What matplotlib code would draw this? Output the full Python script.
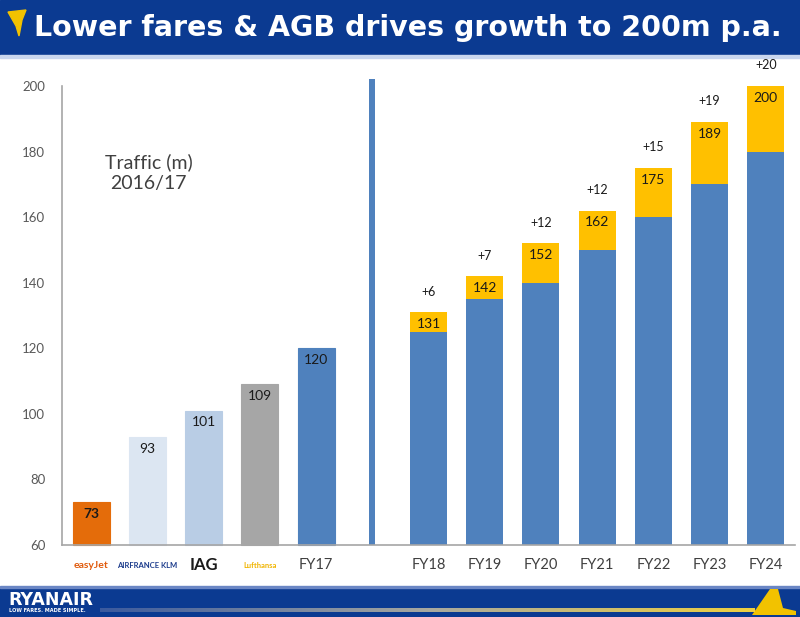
import matplotlib.pyplot as plt
import numpy as np
from matplotlib.patches import Rectangle, Polygon
from matplotlib.colors import LinearSegmentedColormap

# peers 2016/17 traffic (m)
peer_names = ["easyJet", "AIRFRANCE KLM", "IAG", "Lufthansa", "FY17"]
peer_values = [73, 93, 101, 109, 120]
peer_colors = ["#e46c0a", "#dce6f2", "#b9cde5", "#a6a6a6", "#4f81bd"]

# Ryanair growth plan
years = ["FY18", "FY19", "FY20", "FY21", "FY22", "FY23", "FY24"]
base = [125, 135, 140, 150, 160, 170, 180]
totals = [131, 142, 152, 162, 175, 189, 200]
increments = [6, 7, 12, 12, 15, 19, 20]

divider_top = 202

NAVY = "#0b3a91"
BLUE = "#4f81bd"
GOLD = "#ffc000"

plt.rcParams['font.family'] = ['Lato', 'DejaVu Sans']

fig = plt.figure(figsize=(8, 6.17), dpi=100)

# header band
fig.patches.append(Rectangle((0, 1 - 55 / 617), 1, 55 / 617, transform=fig.transFigure,
                             color=NAVY, zorder=-2))
fig.patches.append(Rectangle((0, 1 - 58 / 617), 1, 3 / 617, transform=fig.transFigure,
                             color="#c9d6ee", zorder=-2))
title = "Lower fares & AGB drives growth to 200m p.a."
fig.text(0.51, 1 - 28 / 617, title, color="white", fontsize=20.5, fontweight="bold",
         family="DejaVu Sans", ha="center", va="center")
# little harp mark
harp = Polygon([(8 / 800, 1 - 12 / 617), (26 / 800, 1 - 10 / 617), (22 / 800, 1 - 20 / 617),
                (19 / 800, 1 - 36 / 617), (16 / 800, 1 - 26 / 617)],
               closed=True, transform=fig.transFigure, facecolor="#f2c200",
               edgecolor="#f2c200", zorder=-1)
fig.patches.append(harp)

# footer band
fig.patches.append(Rectangle((0, 0), 1, 29 / 617, transform=fig.transFigure,
                             color=NAVY, zorder=-2))
fig.patches.append(Rectangle((0, 29 / 617), 1, 2 / 617, transform=fig.transFigure,
                             color="#6a86c4", zorder=-2))
fig.text(8 / 800, 17 / 617, "RYANAIR", color="white", fontsize=12.5, fontweight="bold",
         family="DejaVu Sans", ha="left", va="center")
fig.text(9 / 800, 6 / 617, "LOW FARES. MADE SIMPLE.", color="white", fontsize=3.6,
         fontweight="bold", family="DejaVu Sans", ha="left", va="center")
grad_ax = fig.add_axes([100 / 800, 5 / 617, 655 / 800, 4 / 617])
grad = np.linspace(0, 1, 256).reshape(1, -1)
cmap = LinearSegmentedColormap.from_list("fg", ["#3b5a9e", "#a8a8a0", "#f0d040"])
grad_ax.imshow(grad, aspect="auto", cmap=cmap)
grad_ax.axis("off")
tail = Polygon([(752 / 800, 2 / 617), (770 / 800, 28 / 617), (778 / 800, 28 / 617),
                (783 / 800, 9 / 617), (796 / 800, 6 / 617), (796 / 800, 2 / 617)],
               closed=True, transform=fig.transFigure, facecolor="#f2c200",
               edgecolor="none", zorder=-1)
fig.patches.append(tail)

# main chart
ax = fig.add_axes([62 / 800, 72 / 617, 733 / 800, 459 / 617])

peer_x = np.arange(len(peer_values))
div_x = len(peer_values)
year_x = np.arange(len(years)) + len(peer_values) + 1
w = 0.66

ax.bar(peer_x, [v - 60 for v in peer_values], bottom=60, width=w, color=peer_colors,
       edgecolor=peer_colors, linewidth=0.8, zorder=2, clip_on=False)
for x, v in zip(peer_x, peer_values):
    ax.text(x, v - 3.6, str(v), ha="center", va="center", fontsize=10, color="#1a1a1a",
            fontweight="bold" if v == 73 else "normal")

ax.bar(div_x, divider_top - 60, bottom=60, width=0.11, color=BLUE, zorder=2, clip_on=False)

ax.bar(year_x, [b - 60 for b in base], bottom=60, width=w, color=BLUE, zorder=2,
       clip_on=False)
ax.bar(year_x, increments, bottom=base, width=w, color=GOLD, zorder=2, clip_on=False)
for x, t, inc in zip(year_x, totals, increments):
    ax.text(x, t - 3.6, str(t), ha="center", va="center", fontsize=10, color="#1a1a1a")
    ax.text(x, t + 6.3, f"+{inc}", ha="center", va="center", fontsize=9,
            color="#1a1a1a")

ax.text(1.02, 173.5, "Traffic (m)\n2016/17", ha="center", va="center", fontsize=14,
        color="#404040", linespacing=1.25)

ax.set_xlim(-0.52, 12.52)
ax.set_ylim(60, 200)
ax.set_yticks(range(60, 201, 20))
ax.tick_params(axis="y", length=0, labelsize=9.5, labelcolor="#595959", pad=12)
ax.set_xticks([])
for s in ["top", "right"]:
    ax.spines[s].set_visible(False)
for s in ["left", "bottom"]:
    ax.spines[s].set_color("#a6a6a6")
    ax.spines[s].set_linewidth(1.2)

# category labels
lab_y = 53.8
logo_styles = [
    dict(color="#e05a0c", fontsize=7.5, fontweight="bold"),
    dict(color="#1c3c8c", fontsize=5.5, fontweight="bold"),
    dict(color="#1a1a1a", fontsize=12, fontweight="bold"),
    dict(color="#f0b400", fontsize=5.5, fontweight="bold"),
    dict(color="#404040", fontsize=10.5),
]
for x, name, st in zip(peer_x, peer_names, logo_styles):
    ax.text(x, lab_y, name, ha="center", va="center", clip_on=False, **st)
for x, name in zip(year_x, years):
    ax.text(x, lab_y, name, ha="center", va="center", clip_on=False, fontsize=10.5,
            color="#404040")

fig.savefig("out.png", dpi=100)
